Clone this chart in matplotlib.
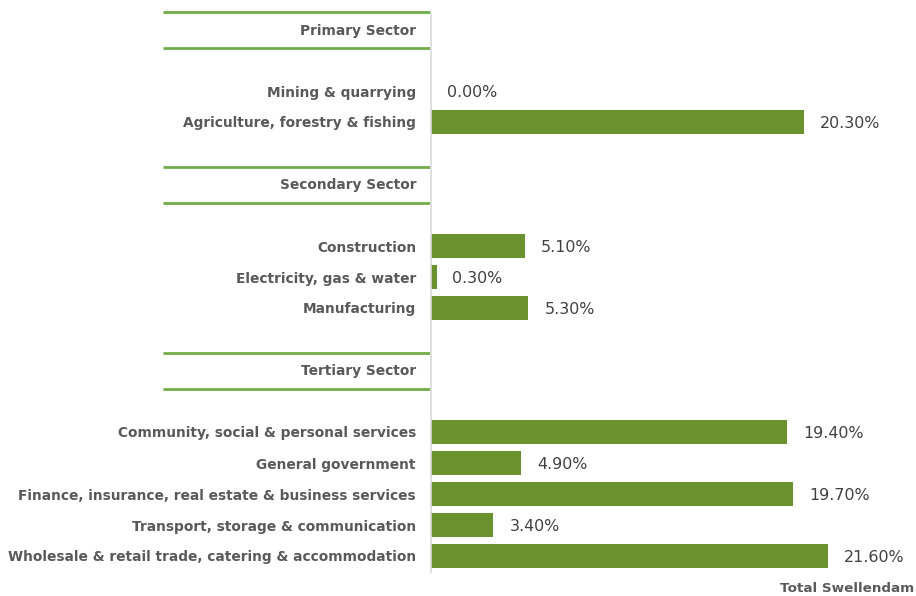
import matplotlib
matplotlib.use("Agg")
import matplotlib.pyplot as plt
import matplotlib.transforms as mtrans

# Data (top to bottom), headers and spacers have no value
rows = ["Primary Sector", "",
        "Mining & quarrying", "Agriculture, forestry & fishing", "",
        "Secondary Sector", "",
        "Construction", "Electricity, gas & water", "Manufacturing", "",
        "Tertiary Sector", "",
        "Community, social & personal services", "General government",
        "Finance, insurance, real estate & business services",
        "Transport, storage & communication",
        "Wholesale & retail trade, catering & accommodation"]
headers = ["Primary Sector", "Secondary Sector", "Tertiary Sector"]
values = [None, None,
          0.00, 20.30, None,
          None, None,
          5.10, 0.30, 5.30, None,
          None, None,
          19.40, 4.90, 19.70, 3.40, 21.60]
series_name = "Total Swellendam"

BAR = "#6A922E"
LINE = "#70AD47"
TXT = "#595959"
VAL = "#404040"
FONT = ["DejaVu Sans"]

W, H = 916, 596
fig = plt.figure(figsize=(W / 100, H / 100), dpi=100)
top_px, bot_px = 13.5, 571.5
left_px = 431
ax = fig.add_axes([left_px / W, 1 - bot_px / H, 441 / W, (bot_px - top_px) / H])

n = len(rows)
ypos = list(range(n))
for y, v in zip(ypos, values):
    if v is None:
        continue
    ax.barh(y, v, height=0.77, color=BAR, left=0)
    ax.annotate(f"{v:.2f}%", xy=(v, y), xytext=(11.5, 0), textcoords="offset points",
                va="center_baseline", ha="left", fontsize=11.4, color=VAL, family=FONT)

ax.set_ylim(n - 0.5, -0.5)
ax.set_xlim(0, 24)
ax.set_yticks([])
ax.set_xticks([])
for s in ["top", "right", "bottom"]:
    ax.spines[s].set_visible(False)
ax.spines["left"].set_color("#d9d9d9")
ax.spines["left"].set_linewidth(1.2)

blend = mtrans.blended_transform_factory(fig.transFigure, ax.transData)
label_x = 416 / W
for y, lab in zip(ypos, rows):
    if not lab:
        continue
    ax.text(label_x, y, lab, transform=blend, ha="right", va="center_baseline",
            fontsize=9.9, fontweight="bold", color=TXT, family=FONT, clip_on=False)
    if lab in headers:
        for off in (-0.55, 0.62):
            ax.plot([163 / W, 430 / W], [y + off, y + off], transform=blend,
                    color=LINE, lw=2, clip_on=False, solid_capstyle="butt")

fig.text(914 / W, 1 - 588 / H, series_name, ha="right", va="center",
         fontsize=9.7, fontweight="bold", color=TXT, family=FONT)

fig.savefig("out.png", dpi=100)
